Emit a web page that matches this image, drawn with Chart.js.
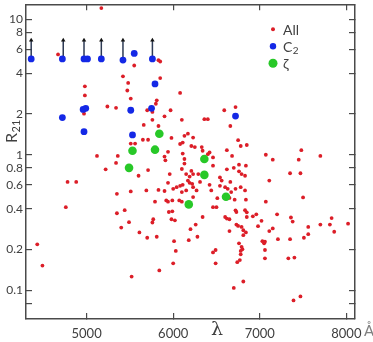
<!DOCTYPE html>
<html>
<head>
<meta charset="utf-8">
<script src="https://cdn.jsdelivr.net/npm/chart.js@4.4.1/dist/chart.umd.min.js"></script>
<style>
  html, body { margin: 0; padding: 0; background: #fff; }
</style>
</head>
<body>
<canvas id="chart" width="373" height="342"></canvas>
<script>
const X_TICKS = [5000, 6000, 7000, 8000];
const Y_TICKS = [10, 8, 6, 4, 2, 1, 0.8, 0.6, 0.4, 0.2, 0.1, 0.08];
const Y_TICK_LABELS = ['10', '8', '6', '4', '2', '1', '0.8', '0.6', '0.4', '0.2', '0.1', ''];

// "All" sample (red)
const ALL_X = [
    5170, 4670, 4980, 4980, 5240, 5340, 4970, 5120, 5360, 5340, 5220, 4780, 4880, 5350, 4760, 5350, 4430, 4490,
    5420, 5480, 5470, 5510, 5550, 5440, 5400, 5490, 5520, 5510, 5560, 5600, 5510,
    5830, 5850, 5850, 6080, 5810, 5800, 5700, 5760, 5970, 5900, 5760, 6100, 6360, 6400, 6590, 6720,
    5660, 5830, 5980, 5650, 5710, 6130, 6170, 6230, 6080, 6110, 6210, 6250, 6330, 6340, 6400, 6420,
    5940, 6110, 5900, 5910, 6130, 6130, 6460, 6460, 5710, 6100, 5960, 6210, 6230, 6190, 6150, 6290,
    6540, 6560, 6170, 6190, 6220, 6080, 6110, 6310, 5940, 6420, 6540, 5690, 5830, 5900, 6000, 6040,
    6100, 6150, 6230, 6270, 6440, 6230,
    6660, 6750, 6780, 6850, 6620, 6680, 7070, 7150, 7480, 7450, 6620, 6700, 6760, 6840, 6760, 6790,
    6830, 7350, 7470, 7110, 6660, 6600, 6630, 6720, 6780, 6830, 6670, 6650, 6710, 6840, 7070, 7500, 7700,
    5790, 5920, 5940, 5990, 6070, 6100, 6510, 6460, 6500, 5950, 5990, 6720, 6730, 6830, 6850, 6850,
    6920, 6960, 7200, 7020, 7360, 7380, 7830, 7810, 8020, 7700, 7560, 7150, 6980, 5770, 5760, 5980,
    6020, 6340, 6600, 6620, 6650, 6730, 6750, 6790, 6810, 6840, 6810, 7110, 6200, 6260, 6650, 5610,
    5700, 5810, 6180, 6280, 6010, 7030, 7060, 7050, 7210, 7350, 7510, 6760, 6030, 6460, 6490, 6790,
    6800, 6780, 6780, 7060, 7060, 7330, 7400, 6490, 6000, 6740, 6770, 7560, 7860, 5840, 6810, 6700,
    7390, 7470
];
const ALL_Y = [
    12.1, 5.5, 3.2, 2.74, 2.27, 2.22, 2.01, 0.98, 0.98, 0.87, 0.78, 0.63, 0.63, 0.515, 0.41, 0.37, 0.218, 0.152,
    3.79, 3.39, 2.98, 2.6, 4.56, 0.39, 0.29, 0.318, 0.126, 1.21, 1.21, 0.7, 0.536,
    4.99, 4.88, 3.68, 2.86, 2.52, 2.38, 2.13, 2.07, 2.13, 1.92, 1.81, 1.81, 1.83, 1.83, 2.13, 2.25,
    1.66, 1.63, 1.33, 1.29, 1.29, 1.38, 1.43, 1.34, 1.2, 1.23, 1.16, 1.14, 1.14, 1.07, 1.01, 1.04,
    1.05, 1.02, 0.97, 0.91, 0.93, 0.86, 0.955, 0.83, 0.77, 0.785, 0.72, 0.76, 0.72, 0.69, 0.72, 0.72,
    0.68, 0.645, 0.645, 0.62, 0.61, 0.59, 0.6, 0.63, 0.62, 0.6, 0.59, 0.545, 0.55, 0.54, 0.56, 0.576,
    0.53, 0.545, 0.576, 0.545, 0.545, 0.487,
    1.63, 1.28, 1.16, 1.18, 1.08, 0.98, 1.0, 0.92, 1.08, 0.92, 0.78, 0.8, 0.845, 0.83, 0.755, 0.72,
    0.7, 0.73, 0.73, 0.645, 0.63, 0.576, 0.56, 0.56, 0.576, 0.545, 0.53, 0.48, 0.466, 0.466, 0.45, 0.484, 0.98,
    0.45, 0.46, 0.45, 0.46, 0.46, 0.45, 0.478, 0.41, 0.41, 0.378, 0.382, 0.389, 0.378, 0.39, 0.376, 0.347,
    0.351, 0.363, 0.363, 0.325, 0.344, 0.321, 0.341, 0.305, 0.31, 0.305, 0.293, 0.286, 0.297, 0.334, 0.316, 0.334,
    0.328, 0.347, 0.347, 0.338, 0.334, 0.305, 0.298, 0.293, 0.277, 0.267, 0.255, 0.273, 0.282, 0.305, 0.273, 0.267,
    0.244, 0.248, 0.234, 0.248, 0.23, 0.23, 0.228, 0.222, 0.238, 0.238, 0.244, 0.222, 0.195, 0.19, 0.198, 0.209,
    0.201, 0.195, 0.184, 0.198, 0.172, 0.172, 0.174, 0.158, 0.158, 0.161, 0.167, 0.259, 0.27, 0.14, 0.116, 0.104,
    0.084, 0.09
];

// C2 (blue)
const C2_X = [4360, 4720, 4970, 5010, 5170, 5420, 5760, 5550, 5790, 4960, 4990, 4720, 5510, 5750, 6720, 4970, 5530];
const C2_Y = [5.1, 5.1, 5.1, 5.1, 5.1, 5.0, 5.1, 5.6, 3.33, 2.16, 2.2, 1.88, 2.13, 2.2, 1.93, 1.48, 1.4];

// C2 lower limits drawn as arrows
const LIMIT_X = [4360, 4730, 4970, 5170, 5420, 5760];
const LIMIT_FROM = [5.1, 5.1, 5.1, 5.1, 5.0, 5.1];
const LIMIT_TO = [7.0, 7.0, 7.0, 7.0, 7.0, 7.0];

// zeta (green)
const ZETA_X = [5840, 5530, 5790, 5490, 6360, 6360, 6180, 6610];
const ZETA_Y = [1.43, 1.07, 1.09, 0.8, 0.93, 0.71, 0.43, 0.49];

const RED = '#dc1e28';
const BLUE = '#1428e6';
const GREEN = '#28c828';
const ARROW = '#2e3b55';
const AXIS = '#4a4a4a';
const TEXT = '#404040';

const toPoints = (xs, ys) => xs.map((x, i) => ({ x, y: ys[i] }));

function fixSize(prop, size) {
    return scale => {
        scale[prop] = size;
        scale.paddingLeft = scale.paddingRight = scale.paddingTop = scale.paddingBottom = 0;
    };
}

const tickGrid = { drawOnChartArea: false, tickLength: -6, color: AXIS, lineWidth: 1.2 };
const frame = { color: AXIS, width: 1.5 };

const xScale = (position, height, showLabels) => ({
    type: 'linear',
    position,
    min: 4300,
    max: 8100,
    afterBuildTicks: s => { s.ticks = X_TICKS.map(v => ({ value: v })); },
    afterFit: fixSize('height', height),
    ticks: {
        display: showLabels,
        callback: v => String(v),
        color: TEXT,
        font: { family: 'Lato', size: 13 },
        padding: 13,
        maxRotation: 0,
        autoSkip: false,
    },
    grid: tickGrid,
    border: frame,
});

const yScale = (position, width, showLabels) => ({
    type: 'logarithmic',
    position,
    min: 0.0613,
    max: 12.9,
    afterBuildTicks: s => { s.ticks = Y_TICKS.map(v => ({ value: v })); },
    afterFit: fixSize('width', width),
    ticks: {
        display: showLabels,
        callback: v => Y_TICK_LABELS[Y_TICKS.indexOf(v)] ?? '',
        color: TEXT,
        font: { family: 'Lato', size: 12 },
        padding: 9,
        autoSkip: false,
    },
    grid: tickGrid,
    border: frame,
});

const LEGEND = [
    { label: 'All', sub: '', color: RED, r: 2 },
    { label: 'C', sub: '2', color: BLUE, r: 3.2 },
    { label: 'ζ', sub: '', color: GREEN, r: 4.5 },
];

// text with a lowered subscript, starting at (x, y)
function subText(ctx, main, sub, x, y, size) {
    ctx.font = size + 'px Lato';
    ctx.fillText(main, x, y);
    const w = ctx.measureText(main).width;
    ctx.font = Math.round(size * 0.7) + 'px Lato';
    ctx.fillText(sub, x + w + 0.5, y + size * 0.25);
}

const annotations = {
    id: 'annotations',
    afterDraw(chart) {
        const { ctx, chartArea: a } = chart;
        ctx.save();
        ctx.fillStyle = TEXT;
        ctx.textBaseline = 'middle';
        ctx.textAlign = 'left';

        // y title R21, rotated
        ctx.save();
        ctx.translate(12, 131);
        ctx.rotate(-Math.PI / 2);
        subText(ctx, 'R', '21', -12, 0, 16);
        ctx.restore();

        // x title and unit
        ctx.textAlign = 'center';
        ctx.font = '19px "DejaVu Serif"';
        ctx.fillText('λ', 217, 330);
        ctx.textAlign = 'left';
        ctx.fillStyle = '#808080';
        ctx.font = '15px Lato';
        ctx.fillText('Å', 364, 331);

        // legend
        LEGEND.forEach((item, i) => {
            const y = a.top + 25 + i * 17;
            ctx.fillStyle = item.color;
            ctx.beginPath();
            ctx.arc(a.right - 82, y, item.r, 0, Math.PI * 2);
            ctx.fill();
            ctx.fillStyle = TEXT;
            subText(ctx, item.label, item.sub, a.right - 72, y + 1, 14);
        });
        ctx.restore();
    },
};

new Chart(document.getElementById('chart'), {
    type: 'scatter',
    data: {
        datasets: [
            {
                label: 'ζ',
                data: toPoints(ZETA_X, ZETA_Y),
                backgroundColor: GREEN,
                borderWidth: 0,
                pointRadius: 4.3,
                order: 0,
            },
            {
                label: 'C2',
                data: toPoints(C2_X, C2_Y),
                backgroundColor: BLUE,
                borderWidth: 0,
                pointRadius: 3.4,
                order: 1,
            },
            {
                label: 'limits',
                data: LIMIT_X.flatMap((x, i) => [{ x, y: LIMIT_FROM[i] }, { x, y: LIMIT_TO[i] }, { x, y: null }]),
                showLine: true,
                spanGaps: false,
                borderColor: ARROW,
                borderWidth: 1.5,
                pointStyle: 'triangle',
                pointRadius: ctx => (ctx.dataIndex % 3 === 1 ? 2.6 : 0),
                pointBackgroundColor: '#111',
                pointBorderWidth: 0,
                order: 2,
            },
            {
                label: 'All',
                data: toPoints(ALL_X, ALL_Y),
                backgroundColor: RED,
                borderWidth: 0,
                pointRadius: 1.9,
                order: 3,
            },
        ],
    },
    options: {
        responsive: false,
        animation: false,
        devicePixelRatio: 1,
        events: [],
        layout: { padding: { top: 2, right: 18, left: 0, bottom: 0 } },
        plugins: { legend: { display: false }, tooltip: { enabled: false } },
        scales: {
            x: xScale('bottom', 23, true),
            x2: xScale('top', 0, false),
            y: yScale('left', 26, true),
            y2: yScale('right', 0, false),
        },
    },
    plugins: [annotations],
});
</script>
</body>
</html>
